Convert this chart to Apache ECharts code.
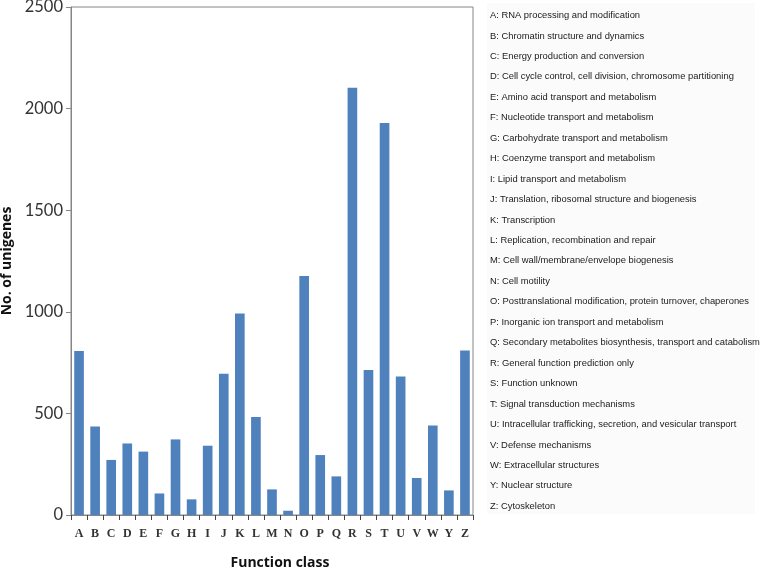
<!DOCTYPE html>
<html>
<head>
<meta charset="utf-8">
<style>html,body{margin:0;padding:0;background:#fff}#c{width:764px;height:571px}</style>
<script src="https://cdn.jsdelivr.net/npm/echarts@6/dist/echarts.min.js"></script>
</head>
<body>
<div id="c"></div>
<script>
const categories = ['A','B','C','D','E','F','G','H','I','J','K','L','M','N','O','P','Q','R','S','T','U','V','W','Y','Z'];
const counts = [807,435,271,352,312,106,372,77,341,695,992,482,126,21,1176,295,190,2103,714,1929,681,182,441,121,810];
const descriptions = [
  'A: RNA processing and modification',
  'B: Chromatin structure and dynamics',
  'C: Energy production and conversion',
  'D: Cell cycle control, cell division, chromosome partitioning',
  'E: Amino acid transport and metabolism',
  'F: Nucleotide transport and metabolism',
  'G: Carbohydrate transport and metabolism',
  'H: Coenzyme transport and metabolism',
  'I: Lipid transport and metabolism',
  'J: Translation, ribosomal structure and biogenesis',
  'K: Transcription',
  'L: Replication, recombination and repair',
  'M: Cell wall/membrane/envelope biogenesis',
  'N: Cell motility',
  'O: Posttranslational modification, protein turnover, chaperones',
  'P: Inorganic ion transport and metabolism',
  'Q: Secondary metabolites biosynthesis, transport and catabolism',
  'R: General function prediction only',
  'S: Function unknown',
  'T: Signal transduction mechanisms',
  'U: Intracellular trafficking, secretion, and vesicular transport',
  'V: Defense mechanisms',
  'W: Extracellular structures',
  'Y: Nuclear structure',
  'Z: Cytoskeleton'
];
const yTicks = [0, 500, 1000, 1500, 2000, 2500];
const xTitle = 'Function class';
const yTitle = 'No. of unigenes';

const chart = echarts.init(document.getElementById('c'), null, {renderer: 'canvas'});
const axisColor = '#868686';

const legendTexts = descriptions.map((d, i) => ({
  type: 'text',
  left: 490,
  top: 11 + i * 20.45,
  style: {text: d, fill: '#1a1a1a', font: '9.4px "Liberation Sans", Arial, sans-serif'}
}));

chart.setOption({
  animation: false,
  backgroundColor: '#fff',
  grid: {left: 71, right: 291, top: 7, bottom: 56, show: true, borderColor: axisColor, borderWidth: 1,
         containLabel: false, outerBoundsMode: 'none'},
  xAxis: {
    type: 'category',
    data: categories,
    name: xTitle,
    nameLocation: 'middle',
    nameGap: 41,
    nameTextStyle: {fontFamily: '"Open Sans", sans-serif', fontWeight: 'bold', fontSize: 14, color: '#111', padding: [0, 0, 0, 16]},
    axisLine: {lineStyle: {color: axisColor, width: 1}},
    axisTick: {show: true, alignWithLabel: false, length: 5, lineStyle: {color: '#444'}},
    axisLabel: {interval: 0, margin: 13, fontFamily: '"Liberation Serif", serif', fontWeight: 'bold', fontSize: 12, color: '#333'}
  },
  yAxis: {
    type: 'value',
    min: 0, max: 2500, interval: 500,
    name: yTitle,
    nameLocation: 'middle',
    nameGap: 51,
    nameRotate: 90,
    nameTextStyle: {fontFamily: '"Open Sans", sans-serif', fontWeight: 'bold', fontSize: 14, color: '#111'},
    axisLine: {show: true, lineStyle: {color: axisColor, width: 1}},
    axisTick: {show: true, length: 5, lineStyle: {color: axisColor}},
    splitLine: {show: false},
    axisLabel: {margin: 8, fontFamily: 'Lato, "Open Sans", sans-serif', fontSize: 16.5, color: '#333',
      formatter: v => yTicks.includes(v) ? String(v) : ''}
  },
  series: [{
    type: 'bar',
    data: counts,
    barWidth: '60%',
    itemStyle: {color: '#4f81bd'}
  }],
  graphic: [
    {type: 'rect', left: 487, top: 3, shape: {width: 268, height: 511}, style: {fill: '#fbfbfb'}, z: -1},
    ...legendTexts
  ]
});
</script>
</body>
</html>
